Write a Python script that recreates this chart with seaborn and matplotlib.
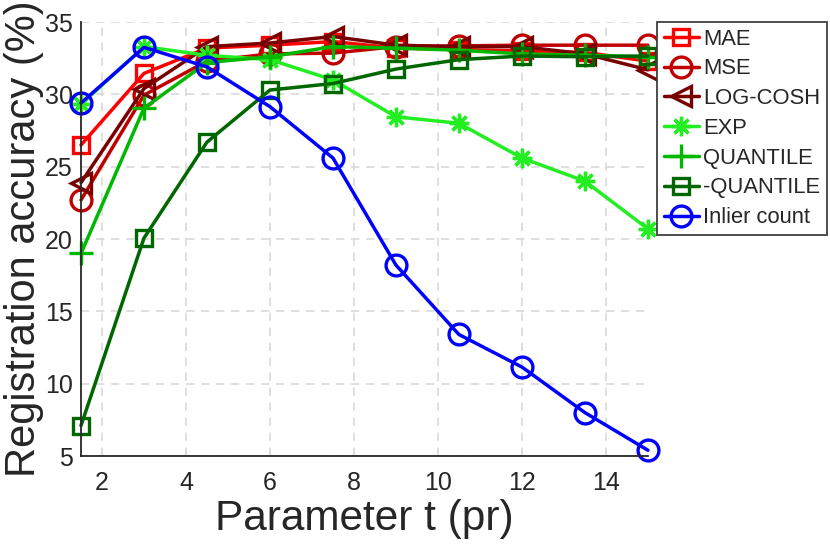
import matplotlib
matplotlib.use("Agg")
import matplotlib.pyplot as plt
import seaborn as sns
import pandas as pd

# parameter t values
t_values = [1.5, 3, 4.5, 6, 7.5, 9, 10.5, 12, 13.5, 15]

# registration accuracy (%) per loss
mae = [26.5, 31.45, 33.2, 33.4, 33.65, 33.2, 33.1, 33.0, 32.9, 32.3]
mse = [22.7, 29.95, 32.3, 32.8, 32.85, 33.3, 33.35, 33.4, 33.4, 33.4]
log_cosh = [23.9, 30.4, 33.3, 33.55, 34.0, 33.4, 33.3, 33.3, 32.8, 31.7]
exp_loss = [29.3, 33.3, 32.7, 32.4, 31.0, 28.45, 28.0, 25.6, 24.0, 20.7]
quantile = [19.0, 29.05, 32.2, 32.6, 33.3, 33.2, 33.05, 32.8, 32.7, 32.6]
neg_quantile = [7.1, 20.07, 26.7, 30.3, 30.75, 31.75, 32.4, 32.65, 32.6, 32.65]
inlier_count = [29.4, 33.25, 31.9, 29.15, 25.6, 18.2, 13.4, 11.15, 8.0, 5.4]

series_names = ["MAE", "MSE", "LOG-COSH", "EXP", "QUANTILE", "-QUANTILE", "Inlier count"]
series_values = [mae, mse, log_cosh, exp_loss, quantile, neg_quantile, inlier_count]
colors = ["#ff0000", "#c00000", "#780000", "#22ee22", "#00b800", "#006600", "#0000ff"]
markers = ["s", "o", "<", (8, 2, 0), "+", "s", "o"]
marker_sizes = [12, 15, 15, 14, 17, 12, 15]

sns.set_style("whitegrid")
plt.rcParams["font.family"] = ["Liberation Sans", "DejaVu Sans"]

fig = plt.figure(figsize=(8.3, 5.51), dpi=100)
ax = fig.add_axes([0.0976, 0.1724, 0.683, 0.7876])

for name, vals, c, m, ms in zip(series_names, series_values, colors, markers, marker_sizes):
    df = pd.DataFrame({"t": t_values, "acc": vals})
    sns.lineplot(data=df, x="t", y="acc", ax=ax, color=c, marker=m, markersize=ms,
                 markerfacecolor="none", markeredgecolor=c, markeredgewidth=2.4,
                 linewidth=2.5, label=name, clip_on=False)

ax.set_xlim(1.5, 15)
ax.set_ylim(5, 35)
ax.set_xticks([2, 4, 6, 8, 10, 12, 14])
ax.set_yticks([5, 10, 15, 20, 25, 30, 35])
ax.grid(True, linestyle=(0, (5, 4)), color="#d9d9d9", linewidth=1.2)
ax.set_facecolor("white")
for side in ["top", "right"]:
    ax.spines[side].set_visible(False)
for side in ["left", "bottom"]:
    ax.spines[side].set_color("#262626")
    ax.spines[side].set_linewidth(1.3)
ax.tick_params(axis="both", direction="in", length=5, width=1.3, color="#262626",
               labelsize=18, labelcolor="#262626")
ax.tick_params(axis="x", pad=11)
ax.tick_params(axis="y", pad=6)
ax.set_xlabel("Parameter t (pr)", fontsize=30.5, color="#262626")
ax.set_ylabel("Registration accuracy (%)", fontsize=30, color="#262626")
ax.xaxis.set_label_coords(0.5, -0.1)
ax.yaxis.set_label_coords(-0.066, 0.5)

leg = ax.legend(loc="upper right", bbox_to_anchor=(827 / 830, 1 - 22 / 551),
                bbox_transform=fig.transFigure, fontsize=15.8, frameon=True,
                fancybox=False, handlelength=1.6, handletextpad=0.2,
                labelspacing=0.4, borderpad=0.3, borderaxespad=0)
leg.get_frame().set_edgecolor("#404040")
leg.get_frame().set_linewidth(1.3)
leg.get_frame().set_alpha(1)

fig.savefig("out.png", dpi=100)
